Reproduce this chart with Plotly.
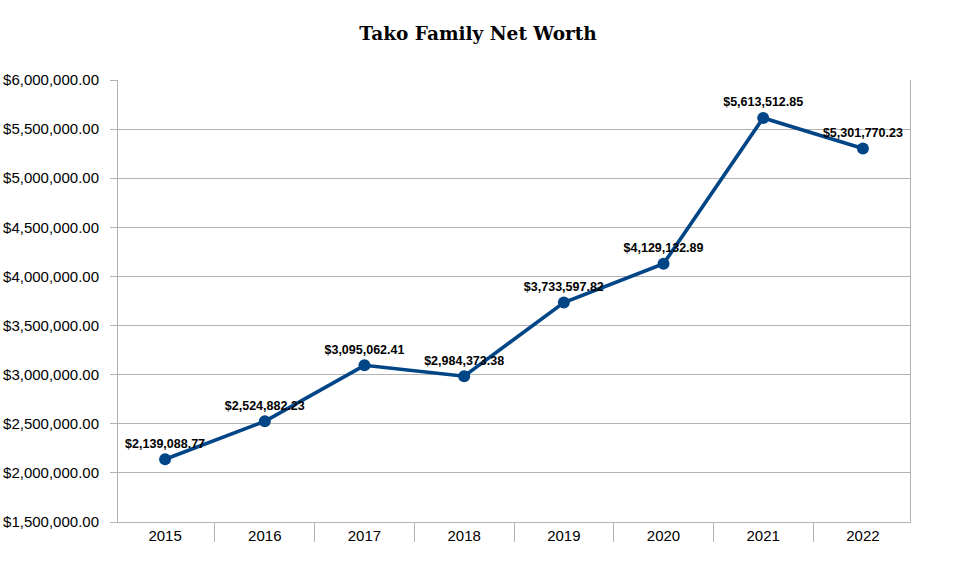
import plotly.graph_objects as go

years = ["2015", "2016", "2017", "2018", "2019", "2020", "2021", "2022"]
net_worth = [2139088.77, 2524882.23, 3095062.41, 2984373.38, 3733597.82, 4129132.89, 5613512.85, 5301770.23]
labels = ["${:,.2f}".format(v) for v in net_worth]
title_text = "Tako Family Net Worth"

fig = go.Figure()
fig.add_trace(go.Scatter(
    x=years, y=net_worth, mode="lines+markers+text",
    text=labels, textposition="top center",
    textfont=dict(family="Liberation Sans", size=12.5, color="#000000", weight="bold"),
    line=dict(color="#004586", width=3.6),
    marker=dict(color="#004586", size=12),
    cliponaxis=False, hoverinfo="skip",
))

fig.update_layout(
    width=954, height=561,
    margin=dict(l=118, r=44, t=80, b=39),
    paper_bgcolor="white", plot_bgcolor="white",
    showlegend=False,
    title=dict(text="<b>" + title_text + "</b>", x=0.501, xanchor="center", y=0.941, yanchor="middle",
               font=dict(family="DejaVu Serif", size=18.5, color="#000000")),
    font=dict(family="Liberation Sans", size=15, color="#000000"),
)
fig.update_yaxes(
    range=[1500000, 6000000], dtick=500000, tick0=0, tickformat="$,.2f",
    showgrid=True, gridcolor="#b3b3b3", gridwidth=1,
    showline=True, linecolor="#b3b3b3", linewidth=1, mirror=True,
    ticks="outside", ticklen=7, tickcolor="#b3b3b3",
    zeroline=False, tickfont=dict(size=15), ticklabelstandoff=8,
    automargin=False,
)
fig.update_xaxes(
    type="category", tickson="boundaries", ticks="outside", ticklen=19, tickcolor="#b3b3b3",
    showline=True, linecolor="#b3b3b3", linewidth=1, showgrid=False,
    tickfont=dict(size=15), automargin=False,
)

fig.write_html("out.html", post_script="document.body.style.margin='0';",
               config={"displayModeBar": False})
